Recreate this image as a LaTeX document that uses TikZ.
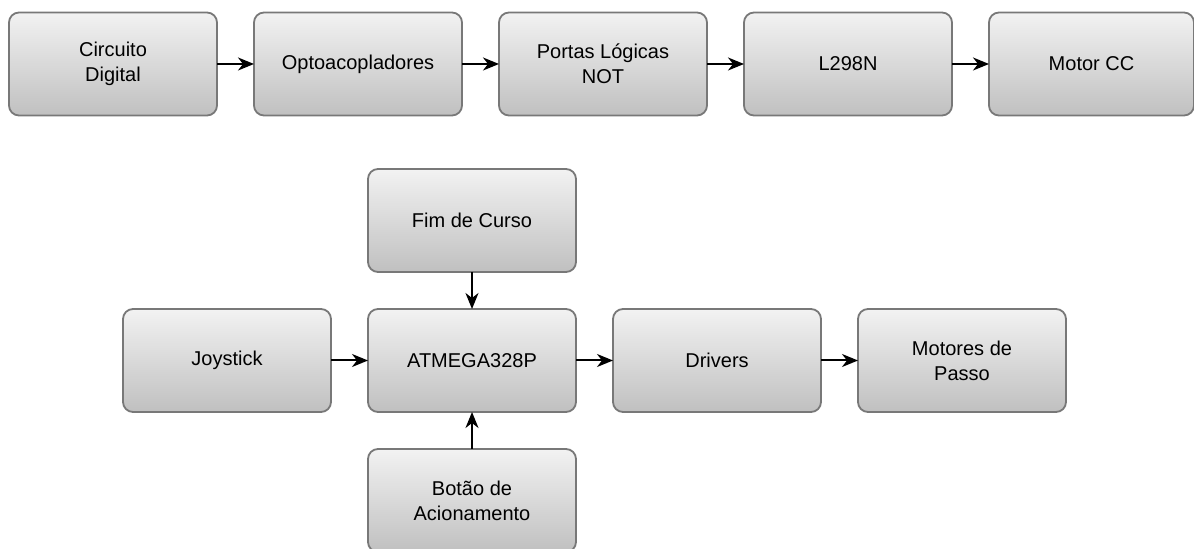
\documentclass[tikz,border=0pt]{standalone}
\usepackage{fontspec}
\setmainfont{Liberation Sans}
\usetikzlibrary{positioning,arrows.meta}
\definecolor{topo}{RGB}{242,242,242}
\definecolor{base}{RGB}{192,192,192}
\definecolor{borda}{RGB}{120,120,120}
\tikzset{
  bloco/.style={draw=borda, line width=0.9pt, rounded corners=5pt,
    top color=topo, bottom color=base, outer sep=0pt,
    minimum width=104pt, minimum height=51.5pt, align=center,
    font=\fontsize{10}{12.5}\selectfont},
  seta/.style={-{Stealth[length=8pt,width=6.5pt,inset=2.5pt]}, line width=1pt}
}
\begin{document}
\begin{tikzpicture}[node distance=18.5pt]
            \useasboundingbox (0,0) rectangle (597pt,-274.5pt);
            % linha de cima
            \node [bloco] (circ) at (56.5pt,-32pt) {Circuito\\Digital};
            \node [bloco, right=of circ] (opto) {Optoacopladores};
            \node [bloco, right=of opto] (nots) {Portas Lógicas\\NOT};
            \node [bloco, right=of nots] (ponte) {L298N};
            \node [bloco, right=of ponte, minimum width=102.5pt] (mcc) {Motor CC};
            \draw [seta] (circ) -- (opto);
            \draw [seta] (opto) -- (nots);
            \draw [seta] (nots) -- (ponte);
            \draw [seta] (ponte) -- (mcc);
            % linha de baixo
            \node [bloco] (joy) at (113.5pt,-180.25pt) {Joystick};
            \node [bloco, right=of joy] (atm) {ATMEGA328P};
            \node [bloco, above=of atm] (fim) {Fim de Curso};
            \node [bloco, below=of atm] (botao) {Botão de\\Acionamento};
            \node [bloco, right=of atm] (drv) {Drivers};
            \node [bloco, right=of drv] (mpasso) {Motores de\\Passo};
            \draw [seta] (joy) -- (atm);
            \draw [seta] (fim) -- (atm);
            \draw [seta] (botao) -- (atm);
            \draw [seta] (atm) -- (drv);
            \draw [seta] (drv) -- (mpasso);
        \end{tikzpicture}
\end{document}
